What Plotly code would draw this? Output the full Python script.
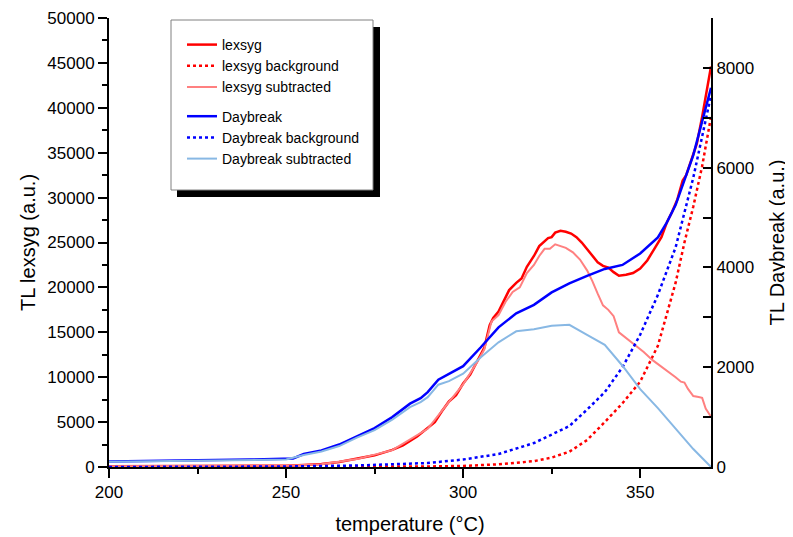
import plotly.graph_objects as go

# ---- data ----
lex_T = [200, 210, 220, 230, 240, 250, 255, 260, 265, 270, 275, 280, 283, 287, 290, 292, 294, 296, 298,
         300, 302, 304, 306, 307.5, 308.5, 310, 312, 313, 315, 316.5, 318, 320, 321.5, 323, 324, 325, 326,
         327.5, 329, 330.5, 332, 333.5, 335, 336.5, 338, 339.5, 341, 342.5, 344, 346, 348, 350, 352, 354,
         356, 357.5, 359, 360.5, 362, 363, 364.5, 366, 367.5, 369, 370]
lex_v = [80, 80, 90, 100, 110, 150, 220, 330, 550, 890, 1300, 1900, 2400, 3400, 4300, 5000, 6200, 7300, 8000,
         9300, 10300, 11800, 13300, 15800, 16600, 17300, 18900, 19700, 20500, 21000, 22300, 23500, 24600, 25200,
         25500, 25600, 26100, 26300, 26200, 26000, 25600, 25000, 24300, 23600, 22800, 22400, 22200, 21700, 21300,
         21400, 21600, 22100, 23000, 24300, 25600, 27200, 28400, 29800, 31900, 32500, 34300, 36000, 39000,
         42300, 44600]

lexbg_T = [200, 250, 275, 290, 300, 310, 320, 325, 330, 335, 340, 345, 350, 355, 360, 362.5, 365, 367.5, 370]
lexbg_v = [0, 10, 30, 60, 120, 300, 650, 1050, 1700, 3000, 5000, 7100, 9500, 13500, 20500, 25000, 29000,
           33500, 39000]

lexsub_T = [200, 250, 260, 270, 280, 290, 296, 300, 304, 306, 308, 310, 312, 314, 316, 318, 320, 321.5, 323,
            324.5, 326, 327.5, 329, 331, 333, 335, 336.5, 338, 339.5, 341, 342.5, 344, 345, 347, 349, 351,
            353.5, 356, 358.5, 360, 361.5, 362.5, 363.5, 365, 366.5, 367.5, 368.5, 370]
lexsub_v = [80, 150, 320, 880, 1880, 4250, 7250, 9200, 11700, 13100, 16200, 16900, 18400, 19500, 20000, 21600,
            22500, 23500, 24300, 24300, 24800, 24600, 24400, 23900, 23100, 21900, 20700, 19300, 18000, 17500,
            16800, 15000, 14700, 14100, 13400, 12800, 11900, 11200, 10500, 10000, 9500, 9400, 8700, 7900, 7800,
            7700, 6500, 5600]

day_T = [200, 210, 220, 230, 240, 250, 252, 255, 260, 265, 270, 275, 280, 285, 288, 290, 293, 296, 300, 305,
         310, 315, 320, 325, 330, 335, 340, 345, 350, 355, 357.5, 360, 365, 370]
day_v = [110, 115, 125, 140, 150, 160, 170, 260, 330, 450, 620, 780, 1000, 1270, 1380, 1500, 1750, 1870, 2020,
         2400, 2800, 3080, 3250, 3500, 3680, 3830, 3970, 4050, 4280, 4600, 4900, 5250, 6250, 7600]

daybg_T = [200, 250, 270, 280, 290, 300, 310, 320, 330, 335, 340, 345, 350, 355, 360, 365, 370]
daybg_v = [0, 10, 30, 50, 80, 150, 260, 480, 820, 1150, 1500, 2000, 2650, 3450, 4400, 5800, 7450]

daysub_T = [200, 250, 255, 260, 265, 270, 275, 280, 285, 288, 290, 293, 296, 300, 305, 310, 315, 320, 325, 330,
            335, 340, 345, 350, 355, 360, 365, 370]
daysub_v = [105, 150, 240, 310, 420, 590, 740, 950, 1200, 1300, 1400, 1650, 1720, 1870, 2200, 2500, 2720, 2760,
            2830, 2850, 2650, 2450, 2030, 1560, 1180, 760, 360, 0]

FONT = "Arial, Liberation Sans, sans-serif"

fig = go.Figure()
fig.add_trace(go.Scatter(x=lex_T, y=lex_v, name="lexsyg", mode="lines", legendgroup="a",
                         line=dict(color="#FF0000", width=2.5)))
fig.add_trace(go.Scatter(x=lexbg_T, y=lexbg_v, name="lexsyg background", mode="lines", legendgroup="a",
                         line=dict(color="#FF0000", width=2.5, dash="dot")))
fig.add_trace(go.Scatter(x=lexsub_T, y=lexsub_v, name="lexsyg subtracted", mode="lines", legendgroup="a",
                         line=dict(color="#FF8080", width=2)))
fig.add_trace(go.Scatter(x=day_T, y=day_v, name="Daybreak", mode="lines", legendgroup="b", yaxis="y2",
                         line=dict(color="#0000FF", width=2.5)))
fig.add_trace(go.Scatter(x=daybg_T, y=daybg_v, name="Daybreak background", mode="lines", legendgroup="b",
                         yaxis="y2", line=dict(color="#0000FF", width=2.5, dash="dot")))
fig.add_trace(go.Scatter(x=daysub_T, y=daysub_v, name="Daybreak subtracted", mode="lines", legendgroup="b",
                         yaxis="y2", line=dict(color="#88B8E4", width=2)))

# page has an 8px body margin; figure is sized so the plot area lands at page px 109..711 x 18..467
OFF = 8
W, H = 793 - OFF, 537 - OFF
PL, PR, PT, PB = 109, 711, 18, 467  # plot area in page pixels
L, R, T, B = PL - OFF, (W + OFF) - PR, PT - OFF, (H + OFF) - PB
pw, ph = PR - PL, PB - PT


def px(xp):
    return (xp - PL) / pw


def py(yp):
    return (PB - yp) / ph


shapes = [
    dict(type="rect", xref="paper", yref="paper", x0=px(177), x1=px(380), y0=py(197), y1=py(27),
         fillcolor="black", line=dict(width=0), layer="above"),
    dict(type="rect", xref="paper", yref="paper", x0=px(171), x1=px(373), y0=py(190), y1=py(20),
         fillcolor="white", line=dict(color="#808080", width=1), layer="above"),
]

axis_common = dict(showline=True, linecolor="black", linewidth=2, showgrid=False, zeroline=False,
                   tickfont=dict(family=FONT, size=17, color="black"), tickcolor="black", tickwidth=1.5,
                   tickformat="d")

fig.update_layout(
    width=W, height=H,
    margin=dict(l=L, r=R, t=T, b=B, autoexpand=False),
    paper_bgcolor="white", plot_bgcolor="white",
    font=dict(family=FONT, color="black"),
    showlegend=True,
    legend=dict(x=px(182), y=py(29), xanchor="left", yanchor="top", bgcolor="rgba(0,0,0,0)",
                borderwidth=0, font=dict(family=FONT, size=14, color="black"),
                traceorder="grouped", tracegroupgap=8, itemwidth=30),
    shapes=shapes,
    xaxis=dict(range=[200, 370], dtick=50, tick0=200, ticks="outside", ticklen=9,
               minor=dict(dtick=25, ticks="outside", ticklen=5, tickcolor="black", tickwidth=1.5),
               title=dict(text="temperature (°C)", font=dict(family=FONT, size=20), standoff=16),
               **axis_common),
    yaxis=dict(range=[0, 50000], dtick=5000, ticks="outside", ticklen=9,
               minor=dict(dtick=2500, ticks="outside", ticklen=5, tickcolor="black", tickwidth=1.5),
               title=dict(text="TL lexsyg (a.u.)", font=dict(family=FONT, size=20), standoff=6),
               **axis_common),
    yaxis2=dict(range=[0, 9000], dtick=2000, overlaying="y", side="right", ticks="inside", ticklen=8,
                minor=dict(dtick=1000, ticks="inside", ticklen=8, tickcolor="black", tickwidth=1.5),
                title=dict(text="TL Daybreak (a.u.)", font=dict(family=FONT, size=20), standoff=17),
                **axis_common),
)

fig.write_html("out.html")
